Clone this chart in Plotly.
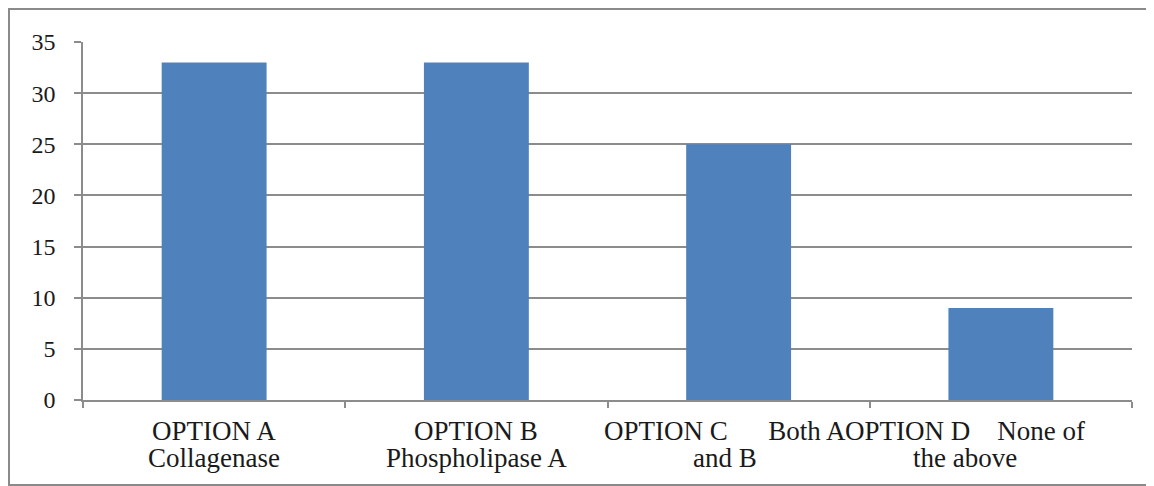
import plotly.graph_objects as go

categories = ["OPTION A", "OPTION B", "OPTION C", "OPTION D"]
values = [33, 33, 25, 9]
label_line1 = ["OPTION A", "OPTION B",
               "OPTION C" + "\u00a0" * 6 + "Both A",
               "OPTION D" + "\u00a0" * 4 + "None of"]
label_line2 = ["Collagenase", "Phospholipase A", "and B", "the above"]
y_ticks = [0, 5, 10, 15, 20, 25, 30, 35]

label_shift = [0, 0, -14, -36]

FONT = "Liberation Serif, Times New Roman, serif"
GRID = "#8c8c8c"
TXT = "#1a1a1a"
# page has an 8px body margin; figure is sized to fit the 1154x486 window
W, H = 1146, 478
L, R, T, B = 75, 22, 34, 86
pw, ph = W - L - R, H - T - B

fig = go.Figure(go.Bar(
    x=categories, y=values, marker=dict(color="#4F81BD", line=dict(width=0)),
    width=0.4, hoverinfo="skip",
))

annotations = []
for c, l1, l2, s in zip(categories, label_line1, label_line2, label_shift):
    annotations.append(dict(x=c, xref="x", y=0, yref="paper", text=l1, showarrow=False,
                            xanchor="center", yanchor="middle", yshift=-31, xshift=s,
                            font=dict(family=FONT, size=27, color=TXT)))
    annotations.append(dict(x=c, xref="x", y=0, yref="paper", text=l2, showarrow=False,
                            xanchor="center", yanchor="middle", yshift=-58, xshift=s,
                            font=dict(family=FONT, size=27, color=TXT)))

def fx(p):
    return (p - L) / pw

def fy(p):
    return (H - B - p) / ph

fig.update_layout(
    width=W, height=H,
    margin=dict(l=L, r=R, t=T, b=B),
    paper_bgcolor="white", plot_bgcolor="white",
    showlegend=False,
    font=dict(family=FONT, size=24, color=TXT),
    xaxis=dict(
        type="category", showticklabels=False, tickson="boundaries",
        ticks="outside", ticklen=6, tickwidth=1.5, tickcolor=GRID,
        showline=True, linecolor=GRID, linewidth=1.5, showgrid=False,
        range=[-0.5, 3.5],
    ),
    yaxis=dict(
        range=[0, 35], tickvals=y_ticks, ticks="outside", ticklen=7,
        tickwidth=1.5, tickcolor=GRID, showline=True, linecolor=GRID,
        linewidth=1.5, showgrid=True, gridcolor=GRID, gridwidth=1.5,
        zeroline=False, ticklabelstandoff=14,
        tickfont=dict(family=FONT, size=24, color=TXT),
    ),
    annotations=annotations,
    shapes=[dict(type="rect", xref="paper", yref="paper",
                 x0=fx(1), x1=fx(1152), y0=fy(477), y1=fy(1),
                 line=dict(color="#8a8a8a", width=2), layer="below")],
)

fig.write_html("out.html")
